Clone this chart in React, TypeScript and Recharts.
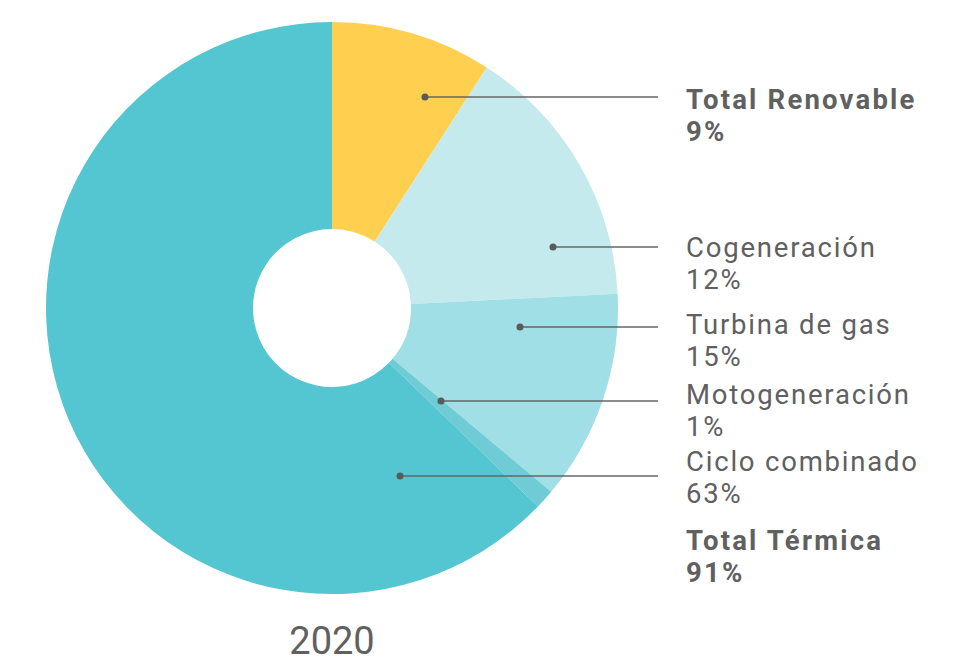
import { Cell, Customized, Pie, PieChart } from "recharts";

const SOURCES = ["Total Renovable", "Cogeneración", "Turbina de gas", "Motogeneración", "Ciclo combinado"];
const SHARES = [9.1, 15.1, 11.9, 1.1, 62.8];
// percentages printed in the labels
const SHARE_LABELS = ["9%", "12%", "15%", "1%", "63%"];
const BOLD = [true, false, false, false, false];
const COLORS = ["#FFD04F", "#C4EAED", "#9FDFE5", "#6FCCD6", "#54C6D1"];

const TOTAL_LABEL = "Total Térmica";
const TOTAL_VALUE = "91%";
const YEAR = "2020";

// annotation layout (dot offsets from center, label baseline)
const DOT_OFFSET = [
  [93, -211],
  [221, -61],
  [188, 19],
  [109, 93],
  [68, 168],
];
const LABEL_Y = [109, 257, 334, 404, 471];

const CX = 332;
const CY = 308;
const LINE_END = 658;
const TEXT_X = 686;
const TEXT = "#606060";
const FONT = "Roboto, 'DejaVu Sans', sans-serif";
const FS = 27.5;
const SPACING = 1.8;
const BOLD_SPACING = 2.2;

const data = SOURCES.map((name, i) => ({ name, value: SHARES[i] }));

const renderLabel = (props: any) => {
  const i = props.index;
  const [dx, dy] = DOT_OFFSET[i];
  const x = props.cx + dx;
  const y = props.cy + dy;
  const ty = LABEL_Y[i];
  const weight = BOLD[i] ? 700 : 400;
  const ls = BOLD[i] ? BOLD_SPACING : SPACING;
  return (
    <g key={`lbl-${i}`}>
      <line x1={x} y1={y} x2={LINE_END} y2={y} stroke="#666" strokeWidth={1.5} />
      <circle cx={x} cy={y} r={3.5} fill="#5a5a5a" />
      <text x={TEXT_X} y={ty} fill={TEXT} fontSize={FS} fontWeight={weight} fontFamily={FONT} letterSpacing={ls}>
        {SOURCES[i]}
      </text>
      <text x={TEXT_X} y={ty + 32} fill={TEXT} fontSize={FS} fontWeight={weight} fontFamily={FONT} letterSpacing={ls}>
        {SHARE_LABELS[i]}
      </text>
    </g>
  );
};

const Extras = () => (
  <g>
    <text x={TEXT_X} y={550} fill={TEXT} fontSize={FS} fontWeight={700} fontFamily={FONT} letterSpacing={BOLD_SPACING}>
      {TOTAL_LABEL}
    </text>
    <text x={TEXT_X} y={582} fill={TEXT} fontSize={FS} fontWeight={700} fontFamily={FONT} letterSpacing={BOLD_SPACING}>
      {TOTAL_VALUE}
    </text>
    <text x={CX} y={654} textAnchor="middle" fill={TEXT} fontSize={38} fontFamily={FONT}>
      {YEAR}
    </text>
  </g>
);

export default function App() {
  return (
    <div style={{ position: "fixed", left: 0, top: 0, width: 974, height: 661, background: "#fff" }}>
      <PieChart width={974} height={661} margin={{ top: 0, right: 0, bottom: 0, left: 0 }}>
        <Pie
          data={data}
          dataKey="value"
          nameKey="name"
          cx={CX}
          cy={CY}
          innerRadius={79}
          outerRadius={286}
          startAngle={90}
          endAngle={-270}
          stroke="none"
          label={renderLabel}
          labelLine={false}
          isAnimationActive={false}
        >
          {data.map((d, i) => (
            <Cell key={d.name} fill={COLORS[i]} />
          ))}
        </Pie>
        <Customized component={Extras} />
      </PieChart>
    </div>
  );
}
